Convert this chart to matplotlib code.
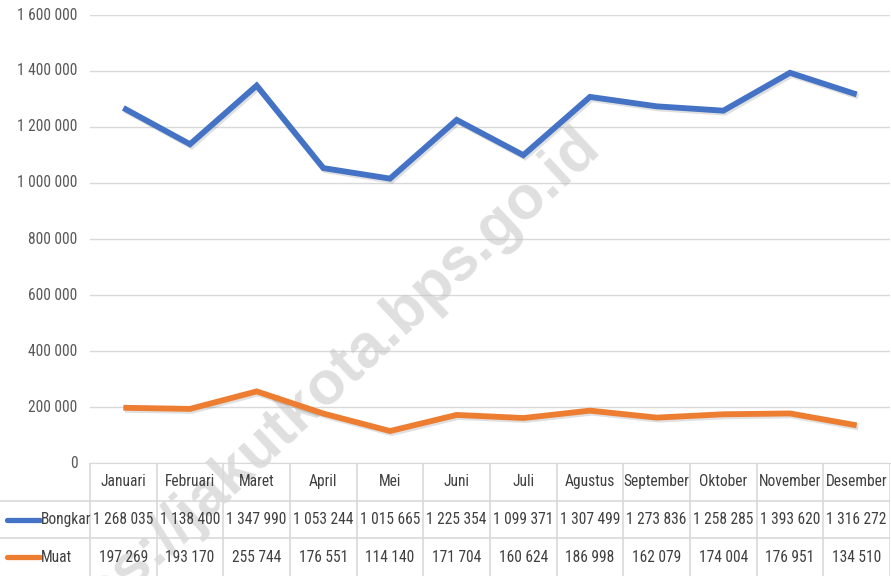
import matplotlib
matplotlib.use("Agg")
import matplotlib.pyplot as plt
import matplotlib.patheffects as pe
from matplotlib import font_manager

months = ["Januari", "Februari", "Maret", "April", "Mei", "Juni", "Juli",
          "Agustus", "September", "Oktober", "November", "Desember"]
bongkar = [1268035, 1138400, 1347990, 1053244, 1015665, 1225354, 1099371,
           1307499, 1273836, 1258285, 1393620, 1316272]
muat = [197269, 193170, 255744, 176551, 114140, 171704, 160624,
        186998, 162079, 174004, 176951, 134510]
series_names = ["Bongkar", "Muat"]
series_colors = ["#4472C4", "#ED7D31"]
yticks = [0, 200000, 400000, 600000, 800000, 1000000, 1200000, 1400000, 1600000]

# pick a condensed font if one is installed
cands = []
for f in font_manager.fontManager.ttflist:
    nm = f.name.lower()
    fn = f.fname.lower()
    cond = ("narrow" in nm or "condensed" in nm or "narrow" in fn or "condensed" in fn
            or "condensed" in str(f.stretch))
    if cond and f.style == "normal" and f.weight in (400, "normal", "regular", "book"):
        if "semi" in fn or "extra" in fn or "ultra" in fn or "mono" in fn or "serif" in nm:
            continue
        cands.append(f)
prio = ["liberation", "roboto", "open", "noto", "dejavu", "lato", "inter"]
cands.sort(key=lambda f: next((i for i, p in enumerate(prio) if p in f.name.lower()), 99))
if cands:
    FP = dict(fontproperties=font_manager.FontProperties(fname=cands[0].fname, size=11.2))
else:
    FP = dict(family="DejaVu Sans", fontsize=8.2)

def fmt(v):
    return f"{v:,}".replace(",", " ")

W, H = 891, 576
fig = plt.figure(figsize=(W / 100, H / 100), dpi=100)

left_px, right_px = 90, 890
top_px, zero_px = 15, 463
ax = fig.add_axes([left_px / W, (H - zero_px) / H, (right_px - left_px) / W, (zero_px - top_px) / H])
x = list(range(len(months)))
shadow = [pe.SimpleLineShadow(offset=(1.2, -1.5), shadow_color="#000000", alpha=0.12), pe.Normal()]
for vals, name, c in zip([bongkar, muat], series_names, series_colors):
    ax.plot(x, vals, color=c, lw=4.2, solid_capstyle="butt", solid_joinstyle="miter",
            path_effects=shadow, zorder=3)
ax.set_xlim(-0.5, len(months) - 0.5)
ax.set_ylim(0, 1600000)
ax.set_yticks(yticks)
ax.set_yticklabels([])
ax.tick_params(axis="y", length=0)
ax.tick_params(axis="x", length=0, labelbottom=False)
for v in yticks:
    ax.annotate(fmt(v), xy=(0, v), xycoords=("axes fraction", "data"), xytext=(-9, 0),
                textcoords="offset points", ha="right", va="center", color="#595959", **FP)
ax.grid(axis="y", color="#D9D9D9", lw=1.0)
ax.set_axisbelow(True)
for s in ["top", "right", "left"]:
    ax.spines[s].set_visible(False)
ax.spines["bottom"].set_color("#D9D9D9")

# watermark (behind the lines)
ax.text(0.352, 0.311, "https://jakutkota.bps.go.id", transform=fig.transFigure,
        rotation=43, ha="center", va="center", fontsize=44, fontweight="bold",
        color="#BFBFBF", alpha=0.5, family=["Liberation Sans", "DejaVu Sans"],
        zorder=2, clip_on=False)

# data table
colw = (right_px - left_px) / len(months)
legw = left_px / colw
tax = fig.add_axes([0, 0, right_px / W, (H - zero_px) / H])
tax.set_xlim(-0.5 - legw, len(months) - 0.5)
tax.set_ylim(3, 0)
tax.axis("off")
lc = "#D9D9D9"
tc = "#404040"
tax.plot([-0.5, len(months) - 0.5], [0, 0], color=lc, lw=1.2)
for r in [1, 2]:
    tax.plot([-0.5 - legw, len(months) - 0.5], [r, r], color=lc, lw=1.2)
for i in range(len(months) + 1):
    tax.plot([i - 0.5, i - 0.5], [0, 3], color=lc, lw=1.2)
for i, m in enumerate(months):
    tax.text(i, 0.5, m, ha="center", va="center", color=tc, **FP)
    tax.text(i, 1.5, fmt(bongkar[i]), ha="center", va="center", color=tc, **FP)
    tax.text(i, 2.5, fmt(muat[i]), ha="center", va="center", color=tc, **FP)
for r, (name, c) in enumerate(zip(series_names, series_colors)):
    y = r + 1.5
    tax.plot([-0.5 - legw + 0.1, -0.5 - legw + 0.6], [y, y], color=c, lw=3.8, solid_capstyle="round")
    tax.text(-0.5 - legw + 0.62, y, name, ha="left", va="center", color=tc, **FP)

fig.savefig("out.png", dpi=100)
